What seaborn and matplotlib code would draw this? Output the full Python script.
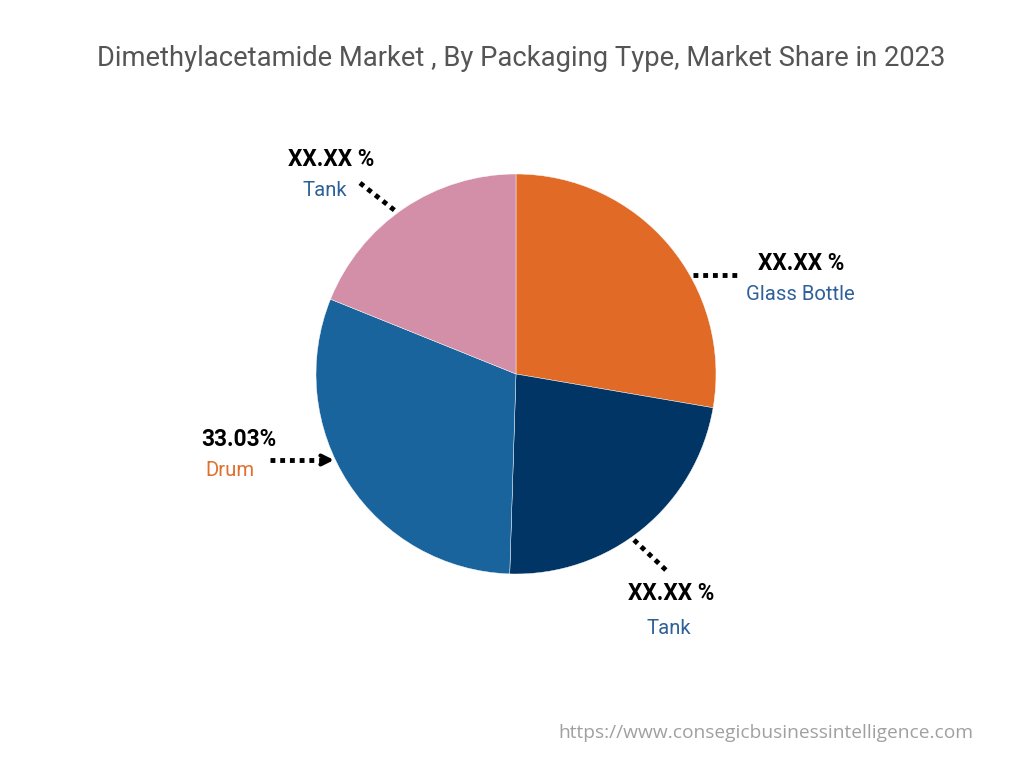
import numpy as np
import seaborn as sns
import matplotlib
matplotlib.use("Agg")
import matplotlib.pyplot as plt

# values (clockwise from 12 o'clock)
segments = ["Glass Bottle", "Tank", "Drum", "Tank "]
shares = [27.7, 22.8, 30.6, 18.9]
value_labels = ["XX.XX %", "XX.XX %", "33.03%", "XX.XX %"]
colors = ["#E26A27", "#003566", "#1A649E", "#D48FA8"]
name_colors = ["#2E6099", "#2E6099", "#E07030", "#2E6099"]

title = "Dimethylacetamide Market , By Packaging Type, Market Share in 2023"
source = "https://www.consegicbusinessintelligence.com"

sns.set_theme(style="white")
plt.rcParams["font.family"] = ["Roboto", "DejaVu Sans"]

fig = plt.figure(figsize=(10.24, 7.68), dpi=100)
W, H = 1024, 768


def fx(px):
    return px / W


def fy(py):
    return 1 - py / H


# pie axes: centre (516, 374), radius 200 px
cx, cy, r = 516, 374, 200
ax = fig.add_axes([fx(cx - r), fy(cy + r), 2 * r / W, 2 * r / H])
ax.pie(shares, colors=colors, startangle=90, counterclock=False,
       wedgeprops=dict(linewidth=0.3, edgecolor="white"))
ax.set_xlim(-1, 1)
ax.set_ylim(-1, 1)
ax.set_aspect("equal")
ax.axis("off")


def d(px, py):
    return ((px - cx) / r, (cy - py) / r)


dot = dict(color="black", lw=3.5, linestyle=(0, (1, 1.0)), clip_on=False,
           solid_capstyle="butt", dash_capstyle="butt")

# leader lines
leaders = [((693, 275), (740, 275)),
           ((634, 540), (668, 572)),
           ((270, 460), (328, 460)),
           ((360, 183), (398, 213))]
for (a, b) in leaders:
    p, q = d(*a), d(*b)
    ax.plot([p[0], q[0]], [p[1], q[1]], **dot)

# chevron head on the Drum arrow
ax.annotate("", xy=d(334, 460), xytext=d(322, 460),
            arrowprops=dict(arrowstyle="->", color="black", lw=3,
                            mutation_scale=16, shrinkA=0, shrinkB=0),
            annotation_clip=False)

# labels
label_pos = [(801, 264, 800, 294),
             (671, 593, 669, 628),
             (239, 439, 230, 470),
             (331, 160, 325, 190)]
for i, (vx, vy, nx, ny) in enumerate(label_pos):
    fig.text(fx(vx), fy(vy), value_labels[i], ha="center", va="center",
             fontsize=16.3, fontweight="bold", color="black")
    fig.text(fx(nx), fy(ny), segments[i].strip(), ha="center", va="center",
             fontsize=14.6, color=name_colors[i])

fig.text(fx(521), fy(58), title, ha="center", va="center",
         fontsize=19.7, color="#555555")
fig.text(fx(766), fy(733), source, ha="center", va="center",
         fontsize=13.8, color="#A0A0A0", family=["Open Sans", "DejaVu Sans"])

fig.savefig("out.png", dpi=100, facecolor="white")
